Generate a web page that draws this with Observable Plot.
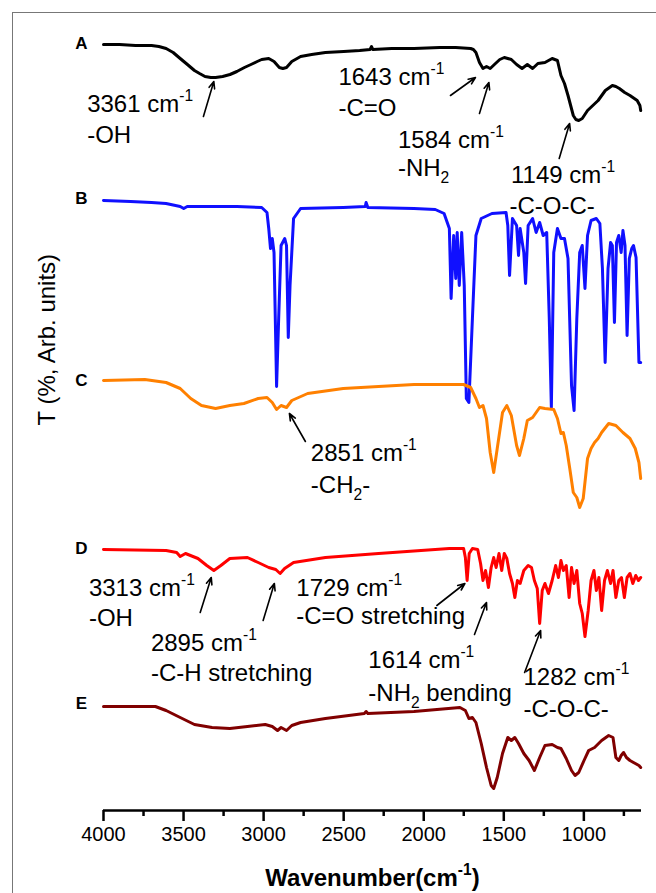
<!DOCTYPE html>
<html><head><meta charset="utf-8">
<script src="https://cdn.jsdelivr.net/npm/d3@7"></script>
<script src="https://cdn.jsdelivr.net/npm/@observablehq/plot@0.6"></script>
<style>
body{margin:0;background:#fff;}
#wrap{position:relative;width:656px;height:893px;overflow:hidden;}
#frame{position:absolute;left:12px;top:12px;width:700px;height:900px;border-left:1.5px solid #777;border-top:1.5px solid #777;}
#chart{position:absolute;left:0;top:0;}
</style></head><body><div id="wrap"><div id="frame"></div><div id="chart"></div></div>
<script>
// [wavenumber (cm-1), transmittance (arb. units, stacked)]
const curveA = [[4000,766],[3900,766],[3800,765],[3700,765],[3654,764],[3609,762],[3565,758],[3521,752],[3476,746],[3432,740],[3400,737],[3366,734],[3330,733],[3300,733],[3256,734],[3210,736],[3167,739],[3120,743],[3079,746],[3040,749],[3012,751],[2968,752],[2935,749],[2902,743],[2880,742],[2857,743],[2824,749],[2769,754],[2700,756],[2614,758],[2500,759],[2400,760],[2335,761],[2326,764],[2318,761],[2200,762],[2061,762],[1900,763],[1800,763],[1707,762],[1690,761],[1674,758],[1652,748],[1630,742],[1608,744],[1585,742],[1552,747],[1525,751],[1497,753],[1475,752],[1453,751],[1420,746],[1386,742],[1353,746],[1320,742],[1287,747],[1243,748],[1198,752],[1165,750],[1143,735],[1121,727],[1099,715],[1066,695],[1050,691],[1032,690],[1010,692],[977,700],[944,705],[911,710],[866,720],[822,725],[800,724],[778,722],[745,718],[712,715],[667,710],[650,705],[645,700]];
const curveB = [[4000,610],[3831,609],[3700,608],[3609,607],[3521,604],[3499,602],[3477,604],[3300,604],[3167,604],[3012,603],[2979,598],[2968,582],[2957,562],[2946,572],[2935,558],[2919,424],[2906,492],[2891,565],[2868,572],[2857,565],[2846,473],[2835,525],[2813,592],[2769,602],[2503,603],[2365,604],[2360,608],[2349,603],[2061,602],[1928,601],[1873,597],[1840,582],[1829,512],[1813,575],[1800,532],[1791,578],[1778,525],[1763,578],[1747,525],[1734,412],[1718,408],[1696,492],[1674,575],[1641,592],[1574,597],[1486,598],[1475,585],[1464,535],[1446,592],[1420,585],[1408,555],[1398,582],[1375,558],[1364,527],[1348,585],[1320,592],[1298,578],[1276,588],[1254,575],[1232,578],[1216,492],[1203,403],[1188,558],[1165,582],[1143,572],[1121,572],[1099,552],[1077,425],[1061,400],[1044,492],[1026,558],[1010,565],[993,522],[977,575],[955,590],[922,592],[900,587],[884,542],[867,448],[849,542],[833,568],[822,565],[809,488],[796,568],[782,575],[767,558],[756,580],[743,565],[730,475],[716,552],[701,562],[690,565],[674,553],[656,448],[645,448]];
const curveC = [[4000,430],[3742,431],[3609,428],[3521,422],[3455,412],[3388,405],[3300,402],[3211,405],[3123,407],[3034,412],[2979,413],[2946,408],[2919,401],[2891,405],[2857,403],[2824,410],[2725,417],[2503,422],[2282,424],[2061,426],[1751,426],[1707,423],[1674,412],[1652,403],[1630,405],[1608,392],[1585,358],[1563,338],[1541,362],[1508,398],[1481,405],[1453,395],[1420,365],[1402,355],[1375,372],[1353,390],[1320,393],[1298,398],[1276,403],[1243,402],[1188,401],[1165,392],[1143,377],[1128,378],[1110,365],[1088,342],[1066,318],[1044,313],[1026,303],[1004,312],[977,352],[955,362],[933,368],[911,372],[889,378],[845,387],[800,385],[756,378],[712,372],[679,362],[656,348],[645,332]];
const curveD = [[4000,261],[3609,260],[3543,258],[3521,254],[3488,257],[3410,252],[3355,245],[3311,240],[3267,245],[3211,252],[3101,253],[3034,248],[2968,243],[2924,241],[2897,237],[2869,242],[2813,248],[2614,253],[2282,257],[1840,262],[1751,262],[1740,253],[1729,230],[1716,257],[1696,262],[1663,261],[1645,247],[1630,230],[1614,240],[1596,223],[1579,243],[1563,253],[1548,243],[1530,257],[1513,240],[1497,257],[1481,252],[1464,237],[1446,227],[1431,213],[1415,230],[1398,227],[1375,240],[1348,245],[1327,243],[1309,230],[1291,222],[1276,187],[1260,220],[1243,227],[1221,217],[1198,230],[1176,245],[1159,233],[1143,250],[1128,240],[1110,245],[1092,213],[1077,243],[1061,227],[1044,240],[1026,207],[1010,197],[993,174],[973,200],[955,230],[937,240],[922,220],[906,233],[889,200],[871,230],[853,240],[833,227],[818,240],[800,213],[782,230],[765,233],[747,213],[730,233],[712,237],[694,227],[676,235],[659,230],[645,233]];
const curveE = [[4000,104],[3676,104],[3609,100],[3521,93],[3432,86],[3322,83],[3211,82],[3101,84],[2990,86],[2946,84],[2913,80],[2891,83],[2857,80],[2824,85],[2769,88],[2614,92],[2371,97],[2360,99],[2349,97],[2061,99],[1774,103],[1740,100],[1718,92],[1696,93],[1674,88],[1641,67],[1608,43],[1579,25],[1563,22],[1541,33],[1508,57],[1475,73],[1453,70],[1431,73],[1408,67],[1375,57],[1342,50],[1309,40],[1276,53],[1243,65],[1198,66],[1165,63],[1143,62],[1110,52],[1077,40],[1055,35],[1032,38],[999,50],[970,60],[933,63],[889,70],[845,75],[818,73],[800,53],[782,50],[767,55],[752,58],[734,53],[712,50],[690,48],[656,45],[645,43]];

const seriesNames = ["A","B","C","D","E"];
const seriesColors = ["#000000","#1010ff","#ff8000","#ff0000","#800000"];
const curves = [curveA, curveB, curveC, curveD, curveE];
const letterT = [767, 612, 430, 262, 107];

const majorTicks = [4000,3500,3000,2500,2000,1500,1000];
const minorTicks = [3750,3250,2750,2250,1750,1250,750];

const annotations = [
  {wn:4102,t:699,label:"3361 cm^{-1}"},
  {wn:4102,t:668,label:"-OH"},
  {wn:2533,t:726,label:"1643 cm^{-1}"},
  {wn:2533,t:695,label:"-C=O"},
  {wn:2161,t:663,label:"1584 cm^{-1}"},
  {wn:2161,t:635,label:"-NH_{2}"},
  {wn:1455,t:628,label:"1149 cm^{-1}"},
  {wn:1465,t:597,label:"-C-O-C-"},
  {wn:2705,t:350,label:"2851 cm^{-1}"},
  {wn:2705,t:318,label:"-CH_{2}-"},
  {wn:4091,t:215,label:"3313 cm^{-1}"},
  {wn:4091,t:185,label:"-OH"},
  {wn:3704,t:160,label:"2895 cm^{-1}"},
  {wn:3704,t:130,label:"-C-H stretching"},
  {wn:2796,t:215,label:"1729 cm^{-1}"},
  {wn:2796,t:187,label:"-C=O stretching"},
  {wn:2346,t:143,label:"1614 cm^{-1}"},
  {wn:2346,t:110,label:"-NH_{2} bending"},
  {wn:1377,t:126,label:"1282 cm^{-1}"},
  {wn:1377,t:94,label:"-C-O-C-"}
];
const arrows = [
  {x1:3376,y1:694,x2:3311,y2:729},
  {x1:1833,y1:715,x2:1677,y2:733},
  {x1:1652,y1:697,x2:1593,y2:728},
  {x1:1154,y1:652,x2:1089,y2:687},
  {x1:2739,y1:369,x2:2839,y2:397},
  {x1:3396,y1:198,x2:3327,y2:233},
  {x1:3003,y1:190,x2:2933,y2:227},
  {x1:1918,y1:205,x2:1743,y2:227},
  {x1:1683,y1:176,x2:1608,y2:208},
  {x1:1370,y1:138,x2:1270,y2:180}
];
const xTitle = "Wavenumber(cm^{-1})";
const yTitle = "T (%, Arb. units)";

const rows = curves.flatMap((c, i) => c.map(([wn, t]) => ({series: seriesNames[i], wn, t})));
const letters = seriesNames.map((s, i) => ({label: s, t: letterT[i]}));

const chart = Plot.plot({
  width: 656, height: 893,
  marginLeft: 103, marginRight: 15, marginTop: 12, marginBottom: 83,
  x: {domain: [4000, 640]},
  y: {domain: [0, 798], axis: null},
  color: {domain: seriesNames, range: seriesColors},
  style: {fontFamily: "'Liberation Sans', Arial, sans-serif", color: "#000", background: "transparent", overflow: "visible"},
  marks: [
    Plot.line(rows, {x: "wn", y: "t", z: "series", stroke: "series", strokeWidth: 3, strokeLinejoin: "round"}),
    Plot.ruleY([0], {strokeWidth: 2.5, stroke: "#000"}),
    Plot.axisX(majorTicks, {tickSize: 11, tickPadding: 5, strokeWidth: 2.5, fontSize: 20, tickFormat: d => String(d), label: null}),
    Plot.axisX(minorTicks, {tickSize: 6, strokeWidth: 2.5, tickFormat: () => "", label: null}),
    Plot.text(letters, {x: () => 4000, y: "t", text: "label", dx: -22, fontWeight: "bold", fontSize: 17, textAnchor: "middle"}),
    Plot.arrow(arrows, {x1: "x1", y1: "y1", x2: "x2", y2: "y2", stroke: "#000", strokeWidth: 1.6, headLength: 7, headAngle: 45}),
    Plot.text(annotations, {x: "wn", y: "t", text: "label", textAnchor: "start", lineAnchor: "bottom", fontSize: 24, fill: "#000"}),
    Plot.text([xTitle], {frameAnchor: "bottom", dy: 75, lineAnchor: "bottom", fontWeight: "bold", fontSize: 24, text: d => d}),
    Plot.text([yTitle], {frameAnchor: "left", dx: -56, dy: 14, rotate: -90, fontSize: 24, text: d => d})
  ]
});
document.getElementById("chart").appendChild(chart);

function richify(root) {
  const ns = "http://www.w3.org/2000/svg";
  const walker = document.createTreeWalker(root, NodeFilter.SHOW_TEXT);
  const nodes = [];
  while (walker.nextNode()) nodes.push(walker.currentNode);
  for (const node of nodes) {
    const s = node.nodeValue;
    if (!/[\^_]\{/.test(s)) continue;
    const F = parseFloat(getComputedStyle(node.parentNode).fontSize) || 16;
    const frag = document.createDocumentFragment();
    const re = /([\^_])\{([^}]*)\}/g;
    let last = 0, shift = 0, m;
    const addNormal = str => {
      if (!str) return;
      if (shift !== 0) {
        const t = document.createElementNS(ns, "tspan");
        t.setAttribute("dy", (-shift).toFixed(2));
        t.textContent = str;
        frag.appendChild(t);
        shift = 0;
      } else frag.appendChild(document.createTextNode(str));
    };
    while ((m = re.exec(s))) {
      addNormal(s.slice(last, m.index));
      const target = m[1] === "^" ? -0.42 * F : 0.3 * F;
      const t = document.createElementNS(ns, "tspan");
      t.setAttribute("dy", (target - shift).toFixed(2));
      t.setAttribute("font-size", (0.65 * F).toFixed(1));
      t.textContent = m[2];
      frag.appendChild(t);
      shift = target;
      last = re.lastIndex;
    }
    addNormal(s.slice(last));
    node.parentNode.replaceChild(frag, node);
  }
}
richify(chart);
</script></body></html>
